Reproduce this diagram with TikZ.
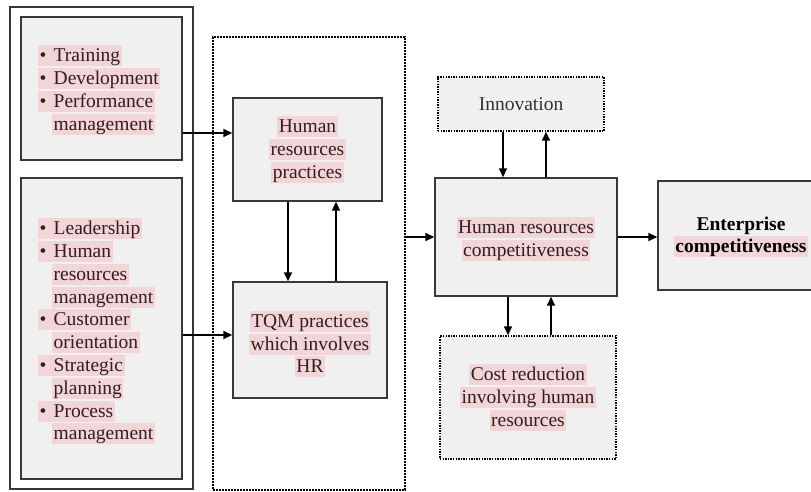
\documentclass[tikz,border=0pt]{standalone}
\usepackage{fontspec}
\setmainfont{Liberation Serif}
\usetikzlibrary{arrows.meta, positioning}
\definecolor{hlpink}{RGB}{242,213,215}
\definecolor{boxgray}{RGB}{240,240,240}
\definecolor{edgecol}{RGB}{56,56,56}
\definecolor{inkcol}{RGB}{48,30,32}
\newcommand{\hlbox}[1]{{\setlength{\fboxsep}{0pt}\colorbox{hlpink}{\hspace{1.5pt}\rule[-4.5pt]{0pt}{21pt}#1\hspace{1.5pt}}}}
\newcommand{\bul}{\makebox[14pt][l]{\textbullet}}
\newcommand{\cont}{\hspace*{14pt}}

\begin{document}
\begin{tikzpicture}[x=1pt, y=-1pt,
    font=\fontsize{19.5pt}{22.8pt}\selectfont, text=inkcol,
    frame/.style={draw=edgecol, line width=1.2pt, fill=white, inner sep=0pt},
    block/.style={draw=edgecol, line width=1.4pt, fill=boxgray, inner sep=0pt, align=center},
    dotblock/.style={block, draw=black, line width=1.5pt, dash pattern=on 1.4pt off 1.2pt},
    zone/.style={draw=black, line width=2pt, dash pattern=on 1.8pt off 1.2pt, inner sep=0pt},
    listtext/.style={anchor=north west, inner sep=0pt, align=left},
    arr/.style={-{Triangle[length=9pt,width=8pt]}, line width=1.6pt}]
    \useasboundingbox (0,0) rectangle (811,492);
    \clip (0,0) rectangle (811,492);

    % left column
    \node[frame, minimum width=183pt, minimum height=482pt] (leftframe) at (101.5,248) {};
    \node[block, minimum width=161pt, minimum height=143pt] (hrbox) at (101.5,88.5) {};
    \node[block, minimum width=161pt, minimum height=301pt] (tqmbox) at (101.5,328.5) {};
    \node[listtext] (hrlist) at (38,45) {%
      \hlbox{\bul Training}\\
      \hlbox{\bul Development}\\
      \hlbox{\bul Performance}\\
      \cont\hlbox{management}};
    \node[listtext] (tqmlist) at (38,218) {%
      \hlbox{\bul Leadership}\\
      \hlbox{\bul Human}\\
      \cont\hlbox{resources}\\
      \cont\hlbox{management}\\
      \hlbox{\bul Customer}\\
      \cont\hlbox{orientation}\\
      \hlbox{\bul Strategic}\\
      \cont\hlbox{planning}\\
      \hlbox{\bul Process}\\
      \cont\hlbox{management}};

    % practices
    \node[zone, minimum width=192pt, minimum height=453pt] (zone) at (309,263.5) {};
    \node[block, minimum width=149pt, minimum height=103pt] (hrp) at (307.5,149.5)
      {\hlbox{Human}\\ \hlbox{resources}\\ \hlbox{practices}};
    \node[block, minimum width=154pt, minimum height=116pt] (tqm) at (310,340)
      {\rule[-4.5pt]{0pt}{29pt}\hlbox{TQM practices}\\ \hlbox{which involves}\\ \hlbox{HR}};

    % competitiveness
    \node[block, minimum width=182pt, minimum height=118pt] (hrc) at (526,237)
      {\rule[-4.5pt]{0pt}{25pt}\hlbox{Human resources}\\ \hlbox{competitiveness}};
    \node[dotblock, minimum width=166pt, minimum height=54pt, text=black!80] (innov) at (521,104) {Innovation};
    \node[dotblock, minimum width=176pt, minimum height=123pt] (cost) at (528,397.5)
      {\hlbox{Cost reduction}\\ \hlbox{involving human}\\ \hlbox{resources}};
    \node[block, minimum width=166pt, minimum height=109pt, text=black, font=\fontsize{19.5pt}{22.8pt}\selectfont\bfseries] (ent) at (741,235.5)
      {\rule[-4.5pt]{0pt}{21pt}Enterprise\\ \hlbox{competitiveness}};

    % connectors
    \draw[arr] ([yshift=-44.5pt]hrbox.east) -- ([yshift=-44.5pt]hrbox.east -| hrp.west);
    \draw[arr] ([yshift=-6.5pt]tqmbox.east) -- ([yshift=-6.5pt]tqmbox.east -| tqm.west);
    \draw[arr] ([xshift=-19.5pt]hrp.south) -- ([xshift=-19.5pt]hrp.south |- tqm.north);
    \draw[arr] ([xshift=28.5pt]hrp.south |- tqm.north) -- ([xshift=28.5pt]hrp.south);
    \draw[arr] (zone.east |- hrc.west) -- (hrc.west);
    \draw[arr] ([xshift=-18pt]innov.south) -- ([xshift=-18pt]innov.south |- hrc.north);
    \draw[arr] ([xshift=25pt]innov.south |- hrc.north) -- ([xshift=25pt]innov.south);
    \draw[arr] ([xshift=-20pt]cost.north |- hrc.south) -- ([xshift=-20pt]cost.north);
    \draw[arr] ([xshift=23pt]cost.north) -- ([xshift=23pt]cost.north |- hrc.south);
    \draw[arr] (hrc.east) -- (hrc.east -| ent.west);
\end{tikzpicture}
\end{document}
